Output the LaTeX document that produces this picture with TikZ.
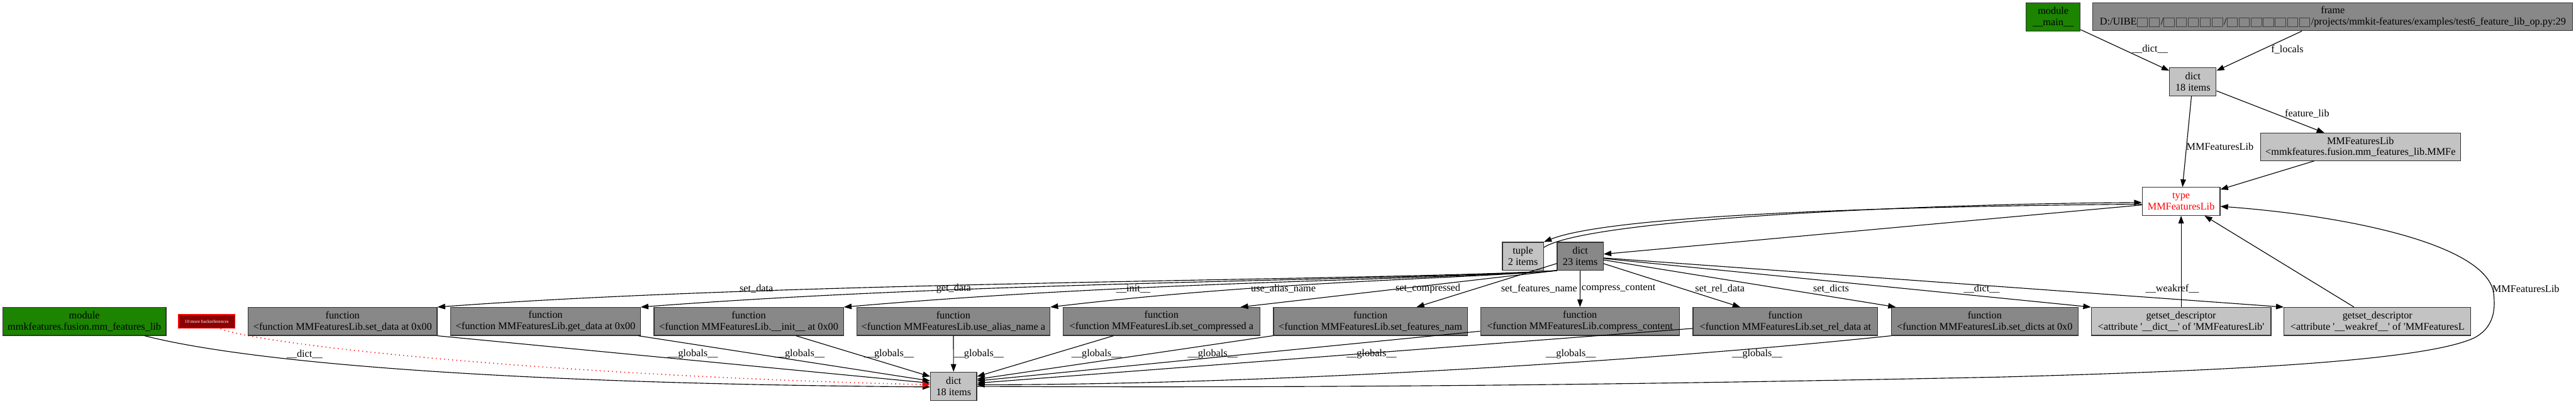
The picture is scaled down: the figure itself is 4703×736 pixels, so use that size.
\documentclass[tikz,border=0pt]{standalone}
\usepackage{fontspec}
\setmainfont{Liberation Serif}
\usetikzlibrary{arrows.meta}
\definecolor{modgreen}{RGB}{28,132,0}
\definecolor{dgrey}{RGB}{136,136,136}
\definecolor{lgrey}{RGB}{195,195,195}
\definecolor{dred}{RGB}{139,0,0}
\newcommand\dgfont{\fontsize{18.67}{20.5}\selectfont}
\newcommand\tofu{\raisebox{-2.5pt}{\fboxsep=0pt\fboxrule=1pt\fcolorbox{black!75}{dgrey}{\rule{0pt}{15pt}\hspace{18pt}}}\kern2pt}
\begin{document}
\begin{tikzpicture}[x=1pt,y=-1pt,
  box/.style={draw=black!80,line width=1.4pt,inner sep=0pt,align=center,font=\dgfont},
  fn/.style={box,fill=dgrey,minimum height=51pt},
  lbl/.style={inner sep=0pt,font=\dgfont},
  edge/.style={line width=1.3pt,draw=black,-{Triangle[length=14pt,width=10pt]}},
  plain/.style={line width=1.3pt,draw=black}]
\useasboundingbox (0,0) rectangle (4703,736);
% nodes
\node[box,fill=modgreen,minimum width=99pt,minimum height=52pt] (mainmod) at (3748.5,31) {module\\\_\_main\_\_};
\node[box,fill=dgrey,minimum width=876pt,minimum height=51pt] (frame) at (4259,30.5) {frame\\D:/UIBE\tofu\tofu/\tofu\tofu\tofu\tofu\tofu/\tofu\tofu\tofu\tofu\tofu\tofu\tofu/projects/mmkit-features/examples/test6\_feature\_lib\_op.py:29};
\node[box,fill=lgrey,minimum width=85pt,minimum height=52pt] (d18t) at (4003.5,149) {dict\\18 items};
\node[box,fill=lgrey,minimum width=365pt,minimum height=50pt] (inst) at (4309.5,268) {MMFeaturesLib\\<mmkfeatures.fusion.mm\_features\_lib.MMFe};
\node[box,fill=white,text=red,minimum width=142pt,minimum height=51pt] (type) at (3982,367.5) {type\\MMFeaturesLib};
\node[box,fill=lgrey,minimum width=75pt,minimum height=51pt] (tuple) at (2780.5,467.5) {tuple\\2 items};
\node[box,fill=dgrey,minimum width=84pt,minimum height=51pt] (d23) at (2885,467.5) {dict\\23 items};
\node[box,fill=modgreen,minimum width=298pt,minimum height=51pt] (modmmk) at (154,586.5) {module\\mmkfeatures.fusion.mm\_features\_lib};
\node[box,fill=dred,draw=red,line width=1.6pt,minimum width=103pt,minimum height=25pt,text=white,font=\fontsize{8.4}{9}\selectfont] (more) at (377.5,586.5) {10 more backreferences};
\node[fn,minimum width=345pt] (f1) at (625.5,586.5) {function\\<function MMFeaturesLib.set\_data at 0x00};
\node[fn,minimum width=346pt] (f2) at (996,586.5) {function\\<function MMFeaturesLib.get\_data at 0x00};
\node[fn,minimum width=346pt] (f3) at (1367,586.5) {function\\<function MMFeaturesLib.\_\_init\_\_ at 0x00};
\node[fn,minimum width=353pt] (f4) at (1740.5,586.5) {function\\<function MMFeaturesLib.use\_alias\_name a};
\node[fn,minimum width=359pt] (f5) at (2120.5,586.5) {function\\<function MMFeaturesLib.set\_compressed a};
\node[fn,minimum width=354pt] (f6) at (2502,586.5) {function\\<function MMFeaturesLib.set\_features\_nam};
\node[fn,minimum width=363pt] (f7) at (2884.5,586.5) {function\\<function MMFeaturesLib.compress\_content};
\node[fn,minimum width=337pt] (f8) at (3259.5,586.5) {function\\<function MMFeaturesLib.set\_rel\_data at};
\node[fn,minimum width=341pt] (f9) at (3623.5,586.5) {function\\<function MMFeaturesLib.set\_dicts at 0x0};
\node[fn,fill=lgrey,minimum width=328pt] (g1) at (3982,586.5) {getset\_descriptor\\<attribute \textquotesingle\_\_dict\_\_\textquotesingle{} of \textquotesingle MMFeaturesLib\textquotesingle};
\node[fn,fill=lgrey,minimum width=341pt] (g2) at (4340.5,586.5) {getset\_descriptor\\<attribute \textquotesingle\_\_weakref\_\_\textquotesingle{} of \textquotesingle MMFeaturesL};
\node[box,fill=lgrey,minimum width=84pt,minimum height=52pt] (d18b) at (1741,705) {dict\\18 items};
% edges top
\draw[edge] (mainmod) -- (d18t);
\draw[edge] (frame) -- (d18t);
\draw[edge] (d18t) -- (inst);
\draw[edge] (d18t) -- (type);
\draw[edge] (inst) -- (type);
\draw[edge] (g1) -- (type);
\draw[edge] (g2) -- (type);
\draw[edge] (type) -- (d23);
\draw[edge] ([yshift=-5pt]type.west) .. controls (3500,376) and (2950,390) .. (tuple.north east);
\draw[edge] ([yshift=-10pt]tuple.north east) .. controls (2900,400) and (3500,372) .. ([yshift=-2pt]type.west);
% dict23 to members
\draw[edge] (d23.south west) .. controls (2550,512) and (1450,512) .. (f1.north east);
\draw[edge] (d23.south west) .. controls (2580,512) and (1800,512) .. (f2.north east);
\draw[edge] (d23.south west) .. controls (2600,512) and (2100,512) .. (f3.north east);
\draw[edge] (d23.south west) .. controls (2650,510) and (2330,512) .. (f4.north east);
\draw[edge] (d23.south west) -- ([xshift=-36pt]f5.north east);
\draw[edge] (d23) -- (f6);
\draw[edge] (d23) -- (f7);
\draw[edge] (d23) -- (f8);
\draw[edge] (d23) -- (f9);
\draw[edge] (d23) -- (g1.north west);
\draw[edge] (d23) -- (g2.north west);
% members to dict18 bottom
\draw[edge] (f1.south east) -- ([yshift=6pt]d18b.west);
\draw[edge] (f2) -- ([yshift=10pt]d18b.west);
\draw[edge] (f3) -- ([yshift=18pt]d18b.west);
\draw[edge] (f4) -- (d18b);
\draw[edge] (f5) -- ([yshift=18pt]d18b.east);
\draw[edge] (f6) -- ([yshift=13pt]d18b.east);
\draw[edge] (f7) -- ([yshift=10pt]d18b.east);
\draw[edge] (f8) -- ([yshift=6pt]d18b.east);
\draw[edge] (f9.south west) .. controls (3000,660) and (2300,702) .. ([yshift=3pt]d18b.east);
\draw[edge] ([xshift=110pt]modmmk.south) .. controls (450,660) and (900,700) .. ([yshift=-1pt]d18b.west);
\draw[line width=1.8pt,draw=red,dash pattern=on 1.5pt off 6pt,-{Triangle[length=14pt,width=10pt,fill=red,sep=0pt]}] ([xshift=25pt]more.south) .. controls (480,630) and (1000,685) .. ([yshift=3pt]d18b.west);
\draw[edge] (d18b.east) .. controls (2600,709) and (3200,697) .. (3650,688)
  .. controls (4050,677) and (4420,660) .. (4516,617)
  .. controls (4550,600) and (4556,570) .. (4553,540)
  .. controls (4550,450) and (4300,395) .. ([yshift=-9pt]type.east);
% labels
\node[lbl] (la) at (3925,90) {\_\_dict\_\_};
\node[lbl] (lb) at (4176,90) {f\_locals};
\node[lbl] (lc) at (4212,208) {feature\_lib};
\node[lbl] (ld) at (4053,267) {MMFeaturesLib};
\node[lbl,anchor=west] (le) at (4550,527) {MMFeaturesLib};
\node[lbl] (m1) at (1381,527) {set\_data};
\node[lbl] (m2) at (1741,527) {get\_data};
\node[lbl] (m3) at (2069,527) {\_\_init\_\_};
\node[lbl] (m4) at (2343,527) {use\_alias\_name};
\node[lbl] (m5) at (2607,527) {set\_compressed};
\node[lbl] (m6) at (2810,527) {set\_features\_name};
\node[lbl] (m7) at (2955,527) {compress\_content};
\node[lbl] (m8) at (3140,527) {set\_rel\_data};
\node[lbl] (m9) at (3343,527) {set\_dicts};
\node[lbl] (m10) at (3618,527) {\_\_dict\_\_};
\node[lbl] (m11) at (3966,527) {\_\_weakref\_\_};
\node[lbl] (n0) at (556,646) {\_\_dict\_\_};
\node[lbl] (n1) at (1265,646) {\_\_globals\_\_};
\node[lbl] (n2) at (1460,646) {\_\_globals\_\_};
\node[lbl] (n3) at (1623,646) {\_\_globals\_\_};
\node[lbl] (n4) at (1787,646) {\_\_globals\_\_};
\node[lbl] (n5) at (2002,646) {\_\_globals\_\_};
\node[lbl] (n6) at (2214,646) {\_\_globals\_\_};
\node[lbl] (n7) at (2504,646) {\_\_globals\_\_};
\node[lbl] (n8) at (2868,646) {\_\_globals\_\_};
\node[lbl] (n9) at (3208,646) {\_\_globals\_\_};
\end{tikzpicture}
\end{document}
